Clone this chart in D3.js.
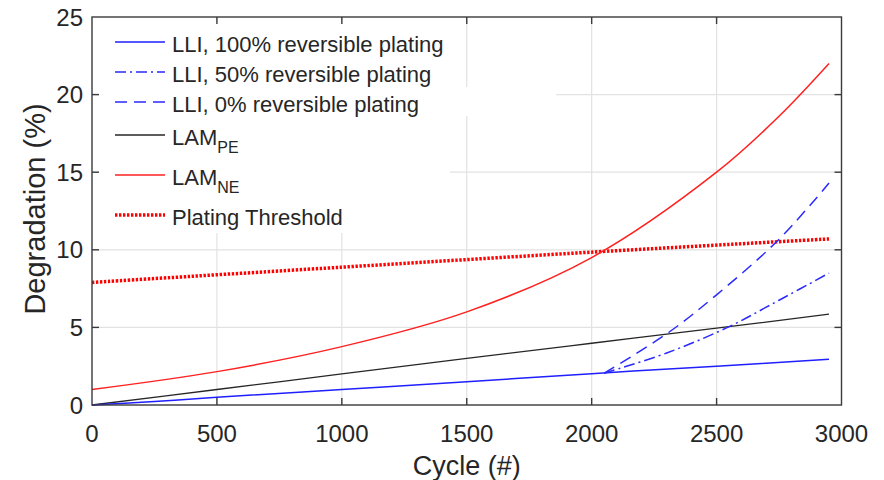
<!DOCTYPE html>
<html>
<head>
<meta charset="utf-8">
<script src="https://cdn.jsdelivr.net/npm/d3@7"></script>
<style>
  html, body { margin: 0; padding: 0; background: #ffffff; }
  svg { display: block; }
  text { font-family: "Liberation Sans", Arial, Helvetica, sans-serif; fill: #262626; }
</style>
</head>
<body>
<svg id="chart" width="884" height="480"></svg>
<script>
// ---------------- data ----------------
const xTicks = [0, 500, 1000, 1500, 2000, 2500, 3000];
const yTicks = [0, 5, 10, 15, 20, 25];
const xLabel = "Cycle (#)";
const yLabel = "Degradation (%)";

const lli100Cycles = [0, 250, 500, 1000, 1500, 2000, 2500, 2950];
const lli100Values = [0, 0.22, 0.5, 1.0, 1.5, 2.02, 2.5, 2.95];

const lli50Cycles = [2050, 2300, 2544, 2750, 2950];
const lli50Values = [2.05, 3.35, 5.0, 6.75, 8.5];

const lli0Cycles = [2050, 2312, 2500, 2739, 2892, 2950];
const lli0Values = [2.05, 4.72, 7.1, 10.5, 13.2, 14.3];

const lamPECycles = [0, 500, 1000, 1500, 2000, 2500, 2950];
const lamPEValues = [0, 1.0, 2.0, 3.0, 3.98, 4.95, 5.85];

const lamNECycles = [0, 500, 1000, 1500, 2000, 2500, 2750, 2950];
const lamNEValues = [1.0, 2.15, 3.76, 6.0, 9.5, 15.0, 18.6, 22.0];

const thresholdCycles = [0, 1000, 2000, 2950];
const thresholdValues = [7.9, 8.88, 9.85, 10.7];

const legendLabels = ["LLI, 100% reversible plating", "LLI, 50% reversible plating", "LLI, 0% reversible plating", "LAM", "LAM", "Plating Threshold"];
const legendSubs = ["", "", "", "PE", "NE", ""];

// ---------------- layout / style ----------------
const L = 92, R = 841.5, T = 17, B = 405;
const svg = d3.select("#chart");
const x = d3.scaleLinear().domain([0, 3000]).range([L, R]);
const y = d3.scaleLinear().domain([0, 25]).range([B, T]);

const styles = [
  { color: "#1f1fff", width: 1.5, dash: null },
  { color: "#2a2aff", width: 1.5, dash: "11,4,2,4" },
  { color: "#2a2aff", width: 1.5, dash: "12,7" },
  { color: "#262626", width: 1.3, dash: null },
  { color: "#ff2020", width: 1.5, dash: null },
  { color: "#ff0000", width: 3.5, dash: "2.4,1.6" }
];
const seriesData = [
  [lli100Cycles, lli100Values],
  [lli50Cycles, lli50Values],
  [lli0Cycles, lli0Values],
  [lamPECycles, lamPEValues],
  [lamNECycles, lamNEValues],
  [thresholdCycles, thresholdValues]
];

// grid
const gridColor = "#e2e2e2";
svg.append("g").selectAll("line.vg").data(xTicks.slice(1, -1)).join("line")
  .attr("x1", d => x(d)).attr("x2", d => x(d)).attr("y1", T).attr("y2", B)
  .attr("stroke", gridColor).attr("stroke-width", 1.2);
svg.append("g").selectAll("line.hg").data(yTicks.slice(1, -1)).join("line")
  .attr("x1", L).attr("x2", R).attr("y1", d => y(d)).attr("y2", d => y(d))
  .attr("stroke", gridColor).attr("stroke-width", 1.2);

// series
const line = d3.line().x(d => x(d[0])).y(d => y(d[1])).curve(d3.curveCatmullRom.alpha(0.5));
const order = [5, 4, 3, 0, 1, 2];
order.forEach(i => {
  const [cs, vs] = seriesData[i];
  const pts = cs.map((c, k) => [c, vs[k]]);
  const s = styles[i];
  svg.append("path").datum(pts)
    .attr("d", line)
    .attr("fill", "none")
    .attr("stroke", s.color)
    .attr("stroke-width", s.width)
    .attr("stroke-dasharray", s.dash)
    .attr("stroke-linejoin", "round");
});

// legend background (white patches)
svg.append("rect").attr("x", 99).attr("y", 21).attr("width", 351).attr("height", 212).attr("fill", "#ffffff");
svg.append("rect").attr("x", 440).attr("y", 87).attr("width", 116).attr("height", 29).attr("fill", "#ffffff");

// axes box
const axisColor = "#3a3a3a";
svg.append("rect").attr("x", L).attr("y", T).attr("width", R - L).attr("height", B - T)
  .attr("fill", "none").attr("stroke", axisColor).attr("stroke-width", 1.4);

// ticks (inward, all four sides)
const tl = 7;
const tg = svg.append("g").attr("stroke", axisColor).attr("stroke-width", 1.4);
xTicks.slice(1, -1).forEach(v => {
  tg.append("line").attr("x1", x(v)).attr("x2", x(v)).attr("y1", B).attr("y2", B - tl);
  tg.append("line").attr("x1", x(v)).attr("x2", x(v)).attr("y1", T).attr("y2", T + tl);
});
yTicks.slice(1, -1).forEach(v => {
  tg.append("line").attr("x1", L).attr("x2", L + tl).attr("y1", y(v)).attr("y2", y(v));
  tg.append("line").attr("x1", R).attr("x2", R - tl).attr("y1", y(v)).attr("y2", y(v));
});

// tick labels
svg.append("g").selectAll("text").data(xTicks).join("text")
  .attr("x", d => x(d)).attr("y", 442)
  .attr("text-anchor", "middle").attr("font-size", 24)
  .text(d => d);
svg.append("g").selectAll("text").data(yTicks).join("text")
  .attr("x", 83).attr("y", d => y(d) + 8.6)
  .attr("text-anchor", "end").attr("font-size", 24)
  .text(d => d);

// axis labels
svg.append("text").attr("x", (L + R) / 2).attr("y", 475)
  .attr("text-anchor", "middle").attr("font-size", 27).text(xLabel);
svg.append("text").attr("transform", "translate(45," + ((T + B) / 2 - 2) + ") rotate(-90)")
  .attr("text-anchor", "middle").attr("font-size", 29).text(yLabel);

// legend
const baselines = [52, 82, 112, 145, 185, 225];
const lg = svg.append("g");
legendLabels.forEach((lab, i) => {
  const s = styles[i];
  const ly = baselines[i] - 10;
  lg.append("line").attr("x1", 115).attr("x2", 165).attr("y1", ly).attr("y2", ly)
    .attr("stroke", s.color).attr("stroke-width", s.width)
    .attr("stroke-dasharray", s.dash);
  const t = lg.append("text").attr("x", 172).attr("y", baselines[i]).attr("font-size", 22);
  t.append("tspan").text(lab);
  if (legendSubs[i]) {
    t.append("tspan").attr("font-size", 16).attr("dy", 8).text(legendSubs[i]);
  }
});
</script>
</body>
</html>
